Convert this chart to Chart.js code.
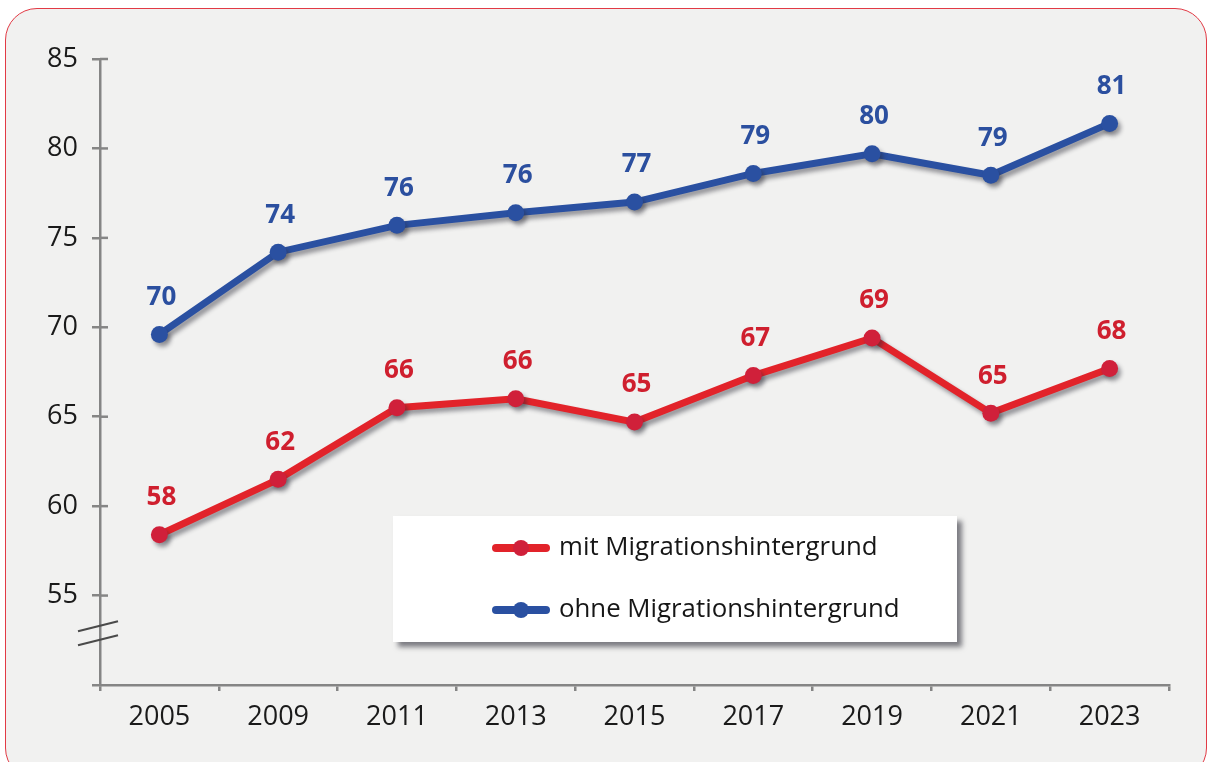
<!DOCTYPE html>
<html lang="de">
<head>
<meta charset="utf-8">
<title>Mit und ohne Migrationshintergrund 2005–2023</title>
<script src="https://cdn.jsdelivr.net/npm/chart.js@4.4.1/dist/chart.umd.min.js"></script>
<style>
  html, body { margin: 0; padding: 0; background: #ffffff; overflow: hidden; }
  #card {
    position: absolute; left: 5px; top: 8px; width: 1200px; height: 770px;
    background: #f1f1f0; border: 1.5px solid #e23a45; border-radius: 32px;
  }
  #wrap { position: absolute; left: 0; top: 0; width: 1208px; height: 762px; }
</style>
</head>
<body>
<div id="card"></div>
<div id="wrap"><canvas id="migChart" width="1208" height="762"></canvas></div>
<script>
const years = ['2005', '2009', '2011', '2013', '2015', '2017', '2019', '2021', '2023'];
const mitValues = [58.4, 61.5, 65.5, 66.0, 64.7, 67.3, 69.4, 65.2, 67.7];
const ohneValues = [69.6, 74.2, 75.7, 76.4, 77.0, 78.6, 79.7, 78.5, 81.4];
const seriesNames = ['mit Migrationshintergrund', 'ohne Migrationshintergrund'];

const RED = '#e2232a', RED_DOT = '#d0203a', RED_TEXT = '#cf1f2e';
const BLUE = '#2a50a1', BLUE_TEXT = '#2b4f9f';
const AXIS = '#858585';
const FONT = "'Open Sans', 'Noto Sans', sans-serif";

// soft drop shadow under the lines and dots
const lineShadow = {
  id: 'lineShadow',
  beforeDatasetsDraw(chart) {
    const ctx = chart.ctx;
    ctx.save();
    ctx.shadowColor = 'rgba(40,40,50,0.45)';
    ctx.shadowBlur = 4;
    ctx.shadowOffsetX = 3;
    ctx.shadowOffsetY = 4;
  },
  afterDatasetsDraw(chart) {
    chart.ctx.restore();
  }
};

// rounded value above each point
const valueLabels = {
  id: 'valueLabels',
  afterDatasetsDraw(chart) {
    const ctx = chart.ctx;
    ctx.save();
    ctx.font = 'bold 26px ' + FONT;
    ctx.textAlign = 'center';
    ctx.textBaseline = 'middle';
    chart.data.datasets.forEach((ds, i) => {
      const meta = chart.getDatasetMeta(i);
      ctx.fillStyle = ds.labelColor;
      meta.data.forEach((pt, j) => {
        ctx.fillText(String(Math.round(ds.data[j])), pt.x + 2, pt.y - 37);
      });
    });
    ctx.restore();
  }
};

// inner halves of the y ticks and the axis break marks
const axisExtras = {
  id: 'axisExtras',
  afterDraw(chart) {
    const ctx = chart.ctx;
    const y = chart.scales.y;
    ctx.save();
    ctx.strokeStyle = AXIS;
    ctx.lineWidth = 2.5;
    y.ticks.forEach(t => {
      if (t.value <= y.min) return;
      const py = y.getPixelForValue(t.value);
      ctx.beginPath();
      ctx.moveTo(y.right, py);
      ctx.lineTo(y.right + 8, py);
      ctx.stroke();
    });
    ctx.strokeStyle = '#4a4a4a';
    ctx.lineWidth = 2;
    const bx = y.right, by = y.getPixelForValue(53);
    [-5, 9].forEach(d => {
      ctx.beginPath();
      ctx.moveTo(bx - 22, by + d + 5);
      ctx.lineTo(bx + 18, by + d - 5);
      ctx.stroke();
    });
    ctx.restore();
  }
};

// boxed legend inside the plot
const boxLegend = {
  id: 'boxLegend',
  afterDraw(chart) {
    const ctx = chart.ctx;
    const bx = 393, by = 516, bw = 564, bh = 126;
    ctx.save();
    ctx.shadowColor = 'rgba(30,30,40,0.55)';
    ctx.shadowBlur = 5;
    ctx.shadowOffsetX = 5;
    ctx.shadowOffsetY = 5;
    ctx.fillStyle = '#ffffff';
    ctx.fillRect(bx, by, bw, bh);
    ctx.restore();

    ctx.save();
    ctx.font = '25.8px ' + FONT;
    ctx.textBaseline = 'middle';
    chart.data.datasets.forEach((ds, i) => {
      const ly = by + 32 + i * 62;
      ctx.strokeStyle = ds.borderColor;
      ctx.lineWidth = 8;
      ctx.lineCap = 'round';
      ctx.beginPath();
      ctx.moveTo(496, ly);
      ctx.lineTo(546, ly);
      ctx.stroke();
      ctx.fillStyle = ds.pointBackgroundColor;
      ctx.beginPath();
      ctx.arc(521, ly, 8, 0, Math.PI * 2);
      ctx.fill();
      ctx.fillStyle = '#161616';
      ctx.fillText(ds.label, 559, ly);
    });
    ctx.restore();
  }
};

new Chart(document.getElementById('migChart'), {
  type: 'line',
  data: {
    labels: years,
    datasets: [
      {
        label: seriesNames[0],
        data: mitValues,
        borderColor: RED,
        pointBackgroundColor: RED_DOT,
        pointBorderColor: RED_DOT,
        pointBorderWidth: 0,
        labelColor: RED_TEXT,
        borderWidth: 7,
        pointRadius: 8.5,
        tension: 0,
        clip: false
      },
      {
        label: seriesNames[1],
        data: ohneValues,
        borderColor: BLUE,
        pointBackgroundColor: BLUE,
        pointBorderColor: BLUE,
        pointBorderWidth: 0,
        labelColor: BLUE_TEXT,
        borderWidth: 7,
        pointRadius: 8.5,
        tension: 0,
        clip: false
      }
    ]
  },
  options: {
    responsive: false,
    animation: false,
    events: [],
    layout: { padding: { top: 59, right: 39, left: 0, bottom: 0 } },
    plugins: { legend: { display: false }, tooltip: { enabled: false } },
    scales: {
      x: {
        offset: true,
        grid: { offset: true, drawOnChartArea: false, color: AXIS, lineWidth: 2.5, tickLength: 6 },
        border: { color: AXIS, width: 2.5 },
        ticks: { color: '#1a1a1a', font: { family: FONT, size: 27 }, padding: 10, maxRotation: 0 },
        afterFit(scale) { scale.height = 77; }
      },
      y: {
        min: 50,
        max: 85,
        grid: { drawOnChartArea: false, color: AXIS, lineWidth: 2.5, tickLength: 8 },
        border: { color: AXIS, width: 2.5 },
        ticks: {
          stepSize: 5,
          color: '#1a1a1a',
          font: { family: FONT, size: 27 },
          padding: 14,
          callback: v => (v <= 50 ? '' : v)
        },
        afterFit(scale) { scale.width = 100; }
      }
    }
  },
  plugins: [lineShadow, valueLabels, axisExtras, boxLegend]
});
</script>
</body>
</html>
